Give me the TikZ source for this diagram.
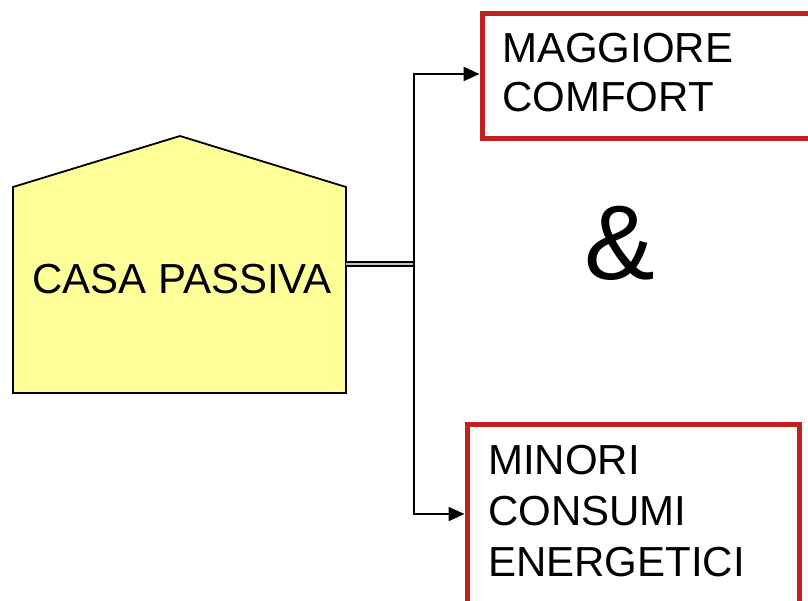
\documentclass[tikz,border=0pt]{standalone}
\usepackage{fontspec}
\setmainfont{Liberation Sans}
\usetikzlibrary{arrows.meta}
\definecolor{boxred}{RGB}{192,32,30}
\definecolor{houseyellow}{RGB}{255,255,153}
\begin{document}
\begin{tikzpicture}[x=1pt,y=-1pt,
  redbox/.style={draw=boxred, line width=5pt, rectangle, inner sep=0pt, anchor=north west},
  txt/.style={inner sep=0pt, align=left},
  conn/.style={line width=2.2pt, draw=black},
  arr/.style={conn, -{Triangle[length=16pt,width=14pt]}},
  housestyle/.style={fill=houseyellow, draw=black, line width=1.8pt, line join=miter},
]
\useasboundingbox (0,0) rectangle (808,600);
\clip (0,0) rectangle (808,600);
% house
\coordinate (hsw) at (13,393);
\coordinate (hnw) at (13,187);
\coordinate (hpk) at (180,136);
\coordinate (hne) at (346,187);
\coordinate (hse) at (346,393);
\draw[housestyle] (hsw) -- (hnw) -- (hpk) -- (hne) -- (hse) -- cycle;
\node[txt, anchor=base, font=\fontsize{42}{49}\selectfont] (casa) at (182,293) {CASA PASSIVA};
% boxes
\node[redbox, minimum width=360pt, minimum height=125.5pt] (top) at (479.5,10.5) {};
\node[redbox, minimum width=332.5pt, minimum height=180pt] (bot) at (464.5,421.5) {};
\node[txt, anchor=north west, font=\fontsize{42}{49}\selectfont] (toptext) at (502,33) {MAGGIORE\\COMFORT};
\node[txt, anchor=north west, font=\fontsize{42}{51}\selectfont] (bottext) at (488,445) {MINORI\\CONSUMI\\ENERGETICI};
\node[txt, anchor=base, font=\fontsize{106}{106}\selectfont] (amp) at (619.5,279) {\&};
% connectors
\coordinate (hr) at (346,264);
\coordinate (j) at (414,264);
\draw[black, double=gray!50, double distance=2.2pt, line width=2pt] (hr) -- (j);
\draw[arr] (j) |- ([yshift=1.75pt]top.west);
\draw[arr] (j) |- (bot.west);
\end{tikzpicture}
\end{document}
